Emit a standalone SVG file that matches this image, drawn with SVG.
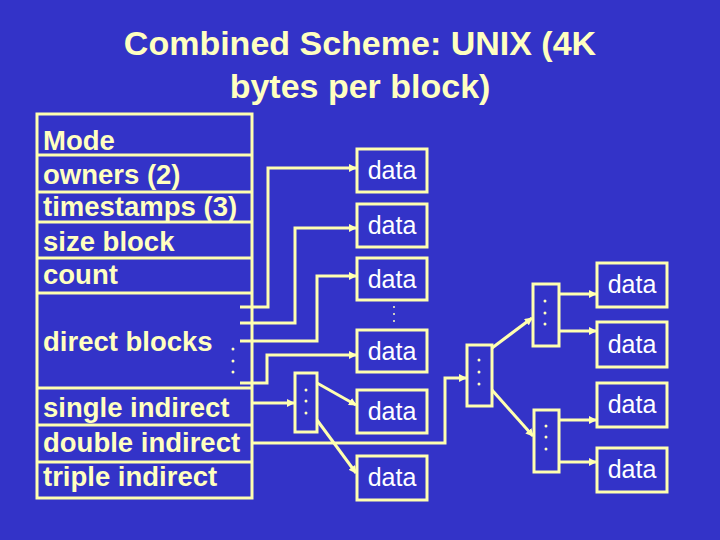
<svg xmlns="http://www.w3.org/2000/svg" width="720" height="540" viewBox="0 0 720 540">
<defs>
<marker id="ah" markerWidth="8" markerHeight="8" refX="7" refY="4" orient="auto" markerUnits="userSpaceOnUse"><path d="M0,0 L8,4 L0,8 z" fill="#FFFFB0"/></marker>
<style>
.b{fill:none;stroke:#FFFFB0;stroke-width:3}
.c{fill:none;stroke:#FFFFB0;stroke-width:3;marker-end:url(#ah)}
.t{font-family:"Liberation Sans",Arial,sans-serif;font-weight:bold;font-size:27.5px;fill:#FFFFC0}
.d{font-family:"Liberation Sans",Arial,sans-serif;font-size:25px;fill:#FFFFFF;text-anchor:middle}
.dot{fill:#FFFFC0}
</style>
</defs>
<rect width="720" height="540" fill="#3333C8"/>
<g id="title" font-family="Liberation Sans,Arial,sans-serif" font-size="34" font-weight="bold" fill="#FFFFC0" text-anchor="middle">
<text x="360" y="55">Combined Scheme: UNIX (4K</text>
<text x="360" y="98">bytes per block)</text>
</g>
<g id="inode">
<rect class="b" x="37" y="114" width="215" height="384"/>
<path class="b" d="M37,155H252M37,192H252M37,222H252M37,258H252M37,293H252M37,388H252M37,425H252M37,462H252"/>
<text class="t" x="43" y="150">Mode</text>
<text class="t" x="43" y="184">owners (2)</text>
<text class="t" x="43" y="216">timestamps (3)</text>
<text class="t" x="43" y="251">size block</text>
<text class="t" x="43" y="284">count</text>
<text class="t" x="43" y="351">direct blocks</text>
<text class="t" x="43" y="417">single indirect</text>
<text class="t" x="43" y="452">double indirect</text>
<text class="t" x="43" y="486">triple indirect</text>
<circle class="dot" cx="233" cy="349" r="1.5"/><circle class="dot" cx="233" cy="361" r="1.5"/><circle class="dot" cx="233" cy="372" r="1.5"/>
</g>
<g id="data1"><rect class="b" x="357" y="149" width="70" height="43"/><text class="d" x="392" y="179">data</text></g>
<g id="data2"><rect class="b" x="357" y="204" width="70" height="43"/><text class="d" x="392" y="234">data</text></g>
<g id="data3"><rect class="b" x="357" y="258" width="70" height="42"/><text class="d" x="392" y="288">data</text></g>
<g id="data4"><rect class="b" x="357" y="330" width="70" height="42"/><text class="d" x="392" y="360">data</text></g>
<g id="data5"><rect class="b" x="357" y="390" width="70" height="43"/><text class="d" x="392" y="420">data</text></g>
<g id="data6"><rect class="b" x="357" y="456" width="70" height="44"/><text class="d" x="392" y="486">data</text></g>
<g id="dots34"><circle class="dot" cx="394" cy="307" r="1"/><circle class="dot" cx="394" cy="314" r="1"/><circle class="dot" cx="394" cy="321" r="1"/></g>
<g id="ind1"><rect class="b" x="295" y="373" width="22" height="59"/><circle class="dot" cx="306" cy="390" r="1.5"/><circle class="dot" cx="306" cy="401" r="1.5"/><circle class="dot" cx="306" cy="413" r="1.5"/></g>
<g id="ind2"><rect class="b" x="467" y="345" width="25" height="61"/><circle class="dot" cx="479" cy="360" r="1.5"/><circle class="dot" cx="479" cy="372" r="1.5"/><circle class="dot" cx="479" cy="384" r="1.5"/></g>
<g id="ind3"><rect class="b" x="533" y="284" width="26" height="62"/><circle class="dot" cx="545" cy="301" r="1.5"/><circle class="dot" cx="545" cy="313" r="1.5"/><circle class="dot" cx="545" cy="324" r="1.5"/></g>
<g id="ind4"><rect class="b" x="534" y="410" width="25" height="62"/><circle class="dot" cx="546" cy="426" r="1.5"/><circle class="dot" cx="546" cy="437" r="1.5"/><circle class="dot" cx="546" cy="449" r="1.5"/></g>
<g id="data7"><rect class="b" x="597" y="263" width="70" height="44"/><text class="d" x="632" y="293">data</text></g>
<g id="data8"><rect class="b" x="597" y="322" width="70" height="45"/><text class="d" x="632" y="353">data</text></g>
<g id="data9"><rect class="b" x="597" y="383" width="70" height="44"/><text class="d" x="632" y="413">data</text></g>
<g id="data10"><rect class="b" x="597" y="448" width="70" height="44"/><text class="d" x="632" y="478">data</text></g>
<g id="connectors">
<path class="c" d="M240,307H268V168H356"/>
<path class="c" d="M240,323H295V228H356"/>
<path class="c" d="M240,341H317V276H356"/>
<path class="c" d="M240,383H267V355H356"/>
<path class="c" d="M252,403H294"/>
<path class="c" d="M317,383L356,405"/>
<path class="c" d="M317,420L356,473"/>
<path class="c" d="M252,443H445V378H466"/>
<path class="c" d="M492,348L532,318"/>
<path class="c" d="M492,390L533,436"/>
<path class="c" d="M559,294H596"/>
<path class="c" d="M559,331H596"/>
<path class="c" d="M559,420H596"/>
<path class="c" d="M559,462H596"/>
</g>
</svg>
